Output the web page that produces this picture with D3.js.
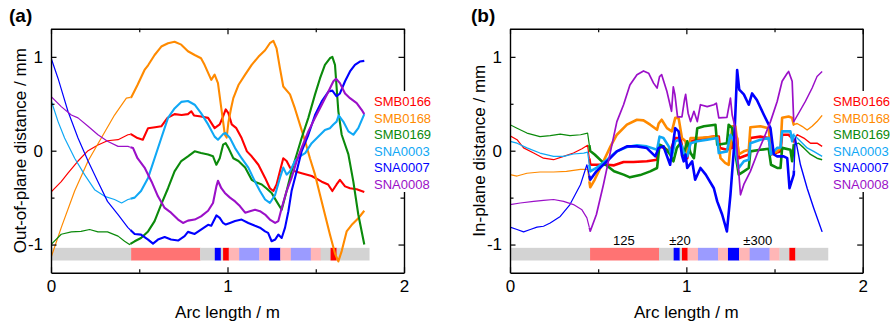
<!DOCTYPE html>
<html><head><meta charset="utf-8">
<script src="https://cdn.jsdelivr.net/npm/d3@7"></script>
<style>body{margin:0;background:#fff} text{font-family:"Liberation Sans",Arial,sans-serif}</style>
</head><body><svg id="c" width="891" height="329"></svg>
<script>
// ---------------- DATA ----------------
const seriesNames = ["SMB0166","SMB0168","SMB0169","SNA0003","SNA0007","SNA0008"];
const seriesColors = ["#ff0000","#ff8a00","#0b8a0b","#10a8f5","#0000ff","#9b10c8"];
const xTickValues = [0,0.5,1,1.5,2];
const yTickValues = [-1,-0.5,0,0.5,1];
const xDomain = [0,2];
const yDomain = [-1.3,1.3];

// Bar of segment types along the arc
const barStart = [0,0.454,0.845,0.928,0.962,0.975,1.007,1.066,1.18,1.236,1.299,1.359,1.472,1.528,1.584,1.618];
const barEnd   = [0.454,0.845,0.928,0.962,0.975,1.007,1.066,1.18,1.236,1.299,1.359,1.472,1.528,1.584,1.618,1.803];
const barColor = ["#d3d3d3","#ff7373","#d3d3d3","#0000ff","#d3d3d3","#ff0000","#ffb6b6","#9b9bff","#ffb6b6","#0000ff","#ffb6b6","#9b9bff","#ffb6b6","#d3d3d3","#ff0000","#d3d3d3"];
const barLabels = ["125","\u00b120","\u00b1300"];
const barLabelX = [0.646,0.964,1.405];

// Panel (a): out-of-plane distance [arc length m, mm]
const aSMB0166 = [[0,-0.44],[0.058,-0.33],[0.096,-0.24],[0.153,-0.11],[0.21,0],[0.266,0.06],[0.32,0.106],[0.38,0.117],[0.436,0.17],[0.455,0.175],[0.49,0.135],[0.52,0.117],[0.55,0.24],[0.59,0.25],[0.625,0.26],[0.66,0.35],[0.70,0.39],[0.74,0.38],[0.776,0.39],[0.795,0.42],[0.81,0.376],[0.85,0.365],[0.89,0.35],[0.927,0.24],[0.956,0.28],[0.975,0.365],[0.99,0.44],[1.005,0.40],[1.024,0.28],[1.05,0.24],[1.08,0.135],[1.11,-0.007],[1.137,-0.06],[1.175,-0.15],[1.213,-0.29],[1.24,-0.40],[1.26,-0.43],[1.278,-0.36],[1.297,-0.22],[1.316,-0.08],[1.335,-0.11],[1.354,-0.18],[1.382,-0.22],[1.42,-0.24],[1.477,-0.27],[1.534,-0.33],[1.57,-0.36],[1.594,-0.43],[1.618,-0.36],[1.637,-0.31],[1.666,-0.38],[1.694,-0.40],[1.732,-0.41],[1.775,-0.44]];
const aSMB0168 = [[0,-1.14],[0.058,-0.82],[0.134,-0.43],[0.21,-0.11],[0.285,0.135],[0.36,0.38],[0.427,0.56],[0.455,0.57],[0.49,0.70],[0.53,0.86],[0.55,0.91],[0.587,1.02],[0.625,1.11],[0.663,1.145],[0.70,1.16],[0.738,1.13],[0.776,1.06],[0.814,1.02],[0.85,0.985],[0.87,0.915],[0.908,0.755],[0.927,0.81],[0.946,0.72],[0.965,0.45],[0.985,0.17],[0.995,0.14],[1.005,0.3],[1.02,0.45],[1.033,0.56],[1.062,0.70],[1.1,0.81],[1.137,0.915],[1.175,1.0],[1.213,1.07],[1.24,1.145],[1.26,1.17],[1.278,1.09],[1.297,0.88],[1.316,0.684],[1.354,0.6],[1.382,0.45],[1.41,0.28],[1.44,0.10],[1.467,-0.08],[1.496,-0.255],[1.524,-0.47],[1.552,-0.68],[1.58,-0.89],[1.61,-1.1],[1.628,-1.18],[1.647,-1.07],[1.675,-0.86],[1.704,-0.79],[1.741,-0.72],[1.775,-0.64]];
const aSMB0169 = [[0,-1.0],[0.058,-0.89],[0.115,-0.865],[0.17,-0.86],[0.219,-0.84],[0.266,-0.865],[0.32,-0.865],[0.38,-0.91],[0.417,-0.965],[0.445,-1.0],[0.474,-0.965],[0.51,-0.93],[0.55,-0.86],[0.587,-0.75],[0.625,-0.57],[0.663,-0.40],[0.70,-0.22],[0.738,-0.11],[0.776,-0.06],[0.814,-0.007],[0.85,-0.025],[0.89,-0.04],[0.918,-0.06],[0.937,-0.15],[0.956,-0.08],[0.975,0.064],[0.99,0.08],[1.005,0.03],[1.033,-0.08],[1.062,-0.11],[1.1,-0.18],[1.137,-0.31],[1.165,-0.34],[1.194,-0.36],[1.22,-0.40],[1.25,-0.45],[1.278,-0.54],[1.307,-0.63],[1.335,-0.43],[1.363,-0.22],[1.392,-0.04],[1.42,0.135],[1.458,0.35],[1.496,0.6],[1.524,0.77],[1.552,0.915],[1.58,0.985],[1.594,1.0],[1.609,0.915],[1.628,0.42],[1.647,0.17],[1.685,-0.04],[1.713,-0.33],[1.741,-0.68],[1.775,-1.0]];
const aSNA0003 = [[0,0.54],[0.04,0.31],[0.077,0.135],[0.134,-0.08],[0.19,-0.255],[0.247,-0.415],[0.304,-0.486],[0.36,-0.52],[0.4,-0.557],[0.436,-0.52],[0.474,-0.50],[0.51,-0.43],[0.55,-0.29],[0.587,-0.08],[0.625,0.135],[0.663,0.35],[0.70,0.45],[0.738,0.52],[0.776,0.53],[0.814,0.49],[0.85,0.40],[0.89,0.28],[0.927,0.15],[0.946,0.117],[0.975,0.177],[0.99,0.188],[1.014,0.135],[1.043,0.028],[1.08,-0.08],[1.118,-0.18],[1.156,-0.33],[1.184,-0.43],[1.213,-0.52],[1.24,-0.557],[1.27,-0.47],[1.297,-0.29],[1.316,-0.18],[1.335,-0.255],[1.354,-0.22],[1.382,-0.11],[1.41,-0.06],[1.44,-0.025],[1.477,0.08],[1.515,0.15],[1.552,0.22],[1.58,0.24],[1.6,0.28],[1.618,0.31],[1.63,0.376],[1.656,0.31],[1.685,0.206],[1.713,0.17],[1.741,0.24],[1.775,0.39]];
const aSNA0007 = [[0,0.99],[0.04,0.77],[0.096,0.42],[0.153,0.135],[0.21,-0.11],[0.266,-0.33],[0.32,-0.54],[0.38,-0.68],[0.436,-0.82],[0.474,-0.887],[0.51,-0.894],[0.55,-0.947],[0.578,-0.99],[0.606,-0.947],[0.644,-0.92],[0.68,-0.947],[0.72,-0.957],[0.757,-0.91],[0.776,-0.865],[0.814,-0.887],[0.85,-0.84],[0.89,-0.79],[0.908,-0.8],[0.937,-0.69],[0.956,-0.716],[0.975,-0.77],[0.99,-0.787],[1.014,-0.77],[1.043,-0.75],[1.08,-0.734],[1.118,-0.77],[1.156,-0.80],[1.184,-0.82],[1.213,-0.86],[1.23,-0.876],[1.25,-0.965],[1.27,-0.947],[1.288,-0.894],[1.307,-0.93],[1.326,-0.82],[1.345,-0.645],[1.363,-0.43],[1.392,-0.22],[1.42,-0.007],[1.458,0.17],[1.496,0.38],[1.534,0.525],[1.572,0.63],[1.594,0.64],[1.618,0.58],[1.637,0.61],[1.666,0.74],[1.694,0.844],[1.722,0.915],[1.75,0.95],[1.775,0.957]];
const aSNA0008 = [[0,0.578],[0.058,0.47],[0.115,0.38],[0.153,0.35],[0.21,0.26],[0.266,0.17],[0.32,0.1],[0.38,0.046],[0.436,0.046],[0.465,0.028],[0.49,-0.08],[0.53,-0.18],[0.57,-0.33],[0.606,-0.486],[0.644,-0.61],[0.68,-0.66],[0.72,-0.734],[0.748,-0.77],[0.776,-0.745],[0.814,-0.734],[0.85,-0.70],[0.89,-0.64],[0.918,-0.557],[0.937,-0.38],[0.946,-0.32],[0.965,-0.40],[0.985,-0.45],[1.014,-0.50],[1.043,-0.54],[1.07,-0.59],[1.1,-0.66],[1.127,-0.645],[1.156,-0.63],[1.184,-0.645],[1.213,-0.68],[1.24,-0.734],[1.27,-0.77],[1.288,-0.75],[1.307,-0.61],[1.335,-0.43],[1.363,-0.29],[1.392,-0.11],[1.42,0.03],[1.458,0.206],[1.496,0.35],[1.534,0.49],[1.572,0.63],[1.6,0.74],[1.615,0.766],[1.637,0.72],[1.666,0.61],[1.694,0.56],[1.732,0.507],[1.76,0.436],[1.775,0.39]];

// Panel (b): in-plane distance
const bSMB0166 = [[0,0.16],[0.04,0.117],[0.077,0.03],[0.134,-0.025],[0.19,-0.08],[0.247,-0.096],[0.304,-0.06],[0.36,-0.025],[0.408,0.02],[0.44,0.057],[0.455,-0.15],[0.49,-0.15],[0.55,-0.15],[0.59,-0.156],[0.644,-0.12],[0.70,-0.12],[0.776,-0.113],[0.834,-0.096],[0.843,0.064],[0.87,0.03],[0.908,-0.007],[0.937,0.135],[0.966,0.135],[0.985,-0.04],[1.005,-0.08],[1.024,0.1],[1.062,0.117],[1.1,0.135],[1.156,0.15],[1.184,0.15],[1.19,0.03],[1.23,0.01],[1.26,0.03],[1.27,0.17],[1.288,0.135],[1.297,-0.08],[1.326,-0.06],[1.354,-0.04],[1.363,0.135],[1.42,0.15],[1.467,0.135],[1.48,-0.04],[1.505,-0.025],[1.534,-0.007],[1.543,0.17],[1.58,0.17],[1.6,0.135],[1.609,0.1],[1.628,0.17],[1.666,0.135],[1.704,0.08],[1.741,0.08],[1.77,0.046]];
const bSMB0168 = [[0,-0.255],[0.04,-0.27],[0.096,-0.24],[0.17,-0.227],[0.247,-0.227],[0.32,-0.22],[0.4,-0.2],[0.44,-0.2],[0.455,-0.39],[0.48,-0.31],[0.53,-0.113],[0.57,0.046],[0.606,0.17],[0.663,0.277],[0.72,0.33],[0.757,0.323],[0.795,0.277],[0.834,0.223],[0.843,0.29],[0.86,0.33],[0.89,0.24],[0.918,0.206],[0.937,0.35],[0.956,0.35],[0.975,0.135],[0.995,0.1],[1.005,-0.04],[1.024,0.135],[1.062,0.135],[1.1,0.14],[1.175,0.15],[1.194,-0.08],[1.22,-0.13],[1.24,-0.15],[1.26,0.26],[1.278,0.26],[1.297,-0.04],[1.326,-0.007],[1.354,0.01],[1.363,0.25],[1.42,0.26],[1.467,0.24],[1.48,-0.04],[1.515,-0.007],[1.534,0.03],[1.543,0.35],[1.58,0.365],[1.6,0.35],[1.609,0.277],[1.628,0.29],[1.656,0.26],[1.685,0.22],[1.713,0.26],[1.741,0.31],[1.77,0.376]];
const bSMB0169 = [[0,0.277],[0.04,0.24],[0.096,0.188],[0.17,0.15],[0.228,0.16],[0.285,0.177],[0.34,0.16],[0.4,0.17],[0.44,0.188],[0.455,-0.004],[0.48,-0.04],[0.53,-0.13],[0.59,-0.22],[0.644,-0.255],[0.68,-0.284],[0.738,-0.26],[0.795,-0.22],[0.834,-0.184],[0.848,0.064],[0.87,0.046],[0.908,-0.04],[0.927,-0.113],[0.946,0.03],[0.966,0.08],[0.985,-0.04],[1.005,0.1],[1.024,-0.025],[1.043,-0.08],[1.062,0.24],[1.1,0.26],[1.165,0.277],[1.175,0.064],[1.23,0.08],[1.24,0.277],[1.26,0.24],[1.27,0.064],[1.297,-0.255],[1.326,-0.22],[1.354,-0.184],[1.363,-0.007],[1.42,0.01],[1.467,0.02],[1.48,-0.15],[1.515,-0.184],[1.534,-0.184],[1.543,0.03],[1.59,0.01],[1.6,-0.113],[1.609,0.064],[1.637,0.08],[1.666,0.03],[1.704,-0.04],[1.741,-0.08],[1.77,-0.096]];
const bSNA0003 = [[0,0.1],[0.04,0.08],[0.096,0.03],[0.17,-0.025],[0.247,-0.06],[0.304,-0.06],[0.36,-0.035],[0.418,-0.025],[0.44,-0.015],[0.455,-0.22],[0.49,-0.184],[0.55,-0.096],[0.606,-0.007],[0.663,0.04],[0.72,0.057],[0.776,0.046],[0.834,0.01],[0.848,0.15],[0.87,0.135],[0.9,0.046],[0.918,-0.06],[0.937,0.1],[0.956,0.117],[0.975,0.046],[0.986,-0.025],[1.005,-0.06],[1.024,0.08],[1.062,0.1],[1.118,0.117],[1.175,0.135],[1.184,-0.025],[1.23,-0.007],[1.25,0.17],[1.27,0.1],[1.297,-0.184],[1.326,-0.113],[1.354,-0.096],[1.363,0.08],[1.42,0.117],[1.467,0.135],[1.48,-0.04],[1.515,0.03],[1.534,0.035],[1.543,0.206],[1.59,0.206],[1.6,0.1],[1.609,0.17],[1.647,0.1],[1.685,0.03],[1.722,-0.007],[1.77,-0.06]];
const bSNA0007 = [[0,-0.815],[0.04,-0.84],[0.077,-0.865],[0.115,-0.84],[0.153,-0.815],[0.19,-0.805],[0.228,-0.77],[0.285,-0.7],[0.34,-0.574],[0.4,-0.36],[0.436,-0.15],[0.455,-0.31],[0.49,-0.22],[0.55,-0.113],[0.606,-0.007],[0.663,0.046],[0.72,0.046],[0.776,0.028],[0.824,-0.06],[0.843,0.028],[0.87,0.046],[0.908,-0.15],[0.937,0.24],[0.956,0.206],[0.975,-0.05],[0.985,-0.113],[0.995,-0.04],[1.005,-0.184],[1.033,-0.113],[1.05,-0.31],[1.08,-0.184],[1.11,-0.255],[1.156,-0.40],[1.175,-0.54],[1.203,-0.68],[1.23,-0.86],[1.25,-0.47],[1.27,0.028],[1.288,0.86],[1.3,0.65],[1.326,0.6],[1.354,0.49],[1.373,0.61],[1.4,0.54],[1.44,0.38],[1.477,0.24],[1.496,-0.04],[1.515,-0.06],[1.552,-0.06],[1.572,-0.08],[1.585,-0.40],[1.609,-0.255],[1.618,0.135],[1.647,-0.15],[1.685,-0.40],[1.722,-0.61],[1.77,-0.865]];
const bSNA0008 = [[0,-0.574],[0.058,-0.557],[0.134,-0.54],[0.19,-0.53],[0.247,-0.52],[0.304,-0.54],[0.36,-0.574],[0.408,-0.63],[0.436,-0.716],[0.455,-0.858],[0.49,-0.68],[0.53,-0.36],[0.57,-0.007],[0.606,0.31],[0.644,0.49],[0.68,0.70],[0.72,0.81],[0.757,0.85],[0.786,0.826],[0.814,0.72],[0.834,0.667],[0.848,0.79],[0.86,0.81],[0.89,0.63],[0.916,0.42],[0.926,0.68],[0.935,0.6],[0.95,0.36],[0.975,0.36],[0.99,0.55],[0.996,0.6],[1.01,0.4],[1.024,0.31],[1.043,0.42],[1.062,0.31],[1.08,0.49],[1.118,0.47],[1.156,0.49],[1.17,0.507],[1.184,0.35],[1.23,0.355],[1.25,0.56],[1.26,0.38],[1.278,0.24],[1.307,-0.47],[1.326,-0.36],[1.363,-0.22],[1.4,-0.04],[1.44,0.135],[1.477,0.31],[1.515,0.525],[1.543,0.74],[1.572,0.826],[1.58,0.844],[1.6,0.74],[1.609,0.31],[1.637,0.40],[1.675,0.525],[1.713,0.667],[1.741,0.79],[1.77,0.844]];

const aSeries = [aSMB0166,aSMB0168,aSMB0169,aSNA0003,aSNA0007,aSNA0008];
const bSeries = [bSMB0166,bSMB0168,bSMB0169,bSNA0003,bSNA0007,bSNA0008];

// ---------------- DRAW ----------------
const svg = d3.select("#c");
const plotTop = 28.7, plotBottom = 272.7;

const panels = [
  {x0:51, x1:404, data:aSeries, tag:"(a)", tagX:9, ytitle:"Out-of-plane distance / mm", ytitleX:25.5, legX:374,
   widths:[[0,0.45,1.2],[0.45,2,2.1]], purpleMid:2.1, barText:false},
  {x0:510, x1:862.7, data:bSeries, tag:"(b)", tagX:471, ytitle:"In-plane distance / mm", ytitleX:485, legX:833,
   widths:[[0,0.45,1.2],[0.45,1.61,2.6],[1.61,2,1.4]], purpleMid:1.7, barText:true}
];

function clipSeg(pts, a, b){
  const out=[];
  for(let i=0;i<pts.length;i++){
    const [px0,py0]=pts[i];
    if(i>0){
      const [qx,qy]=pts[i-1];
      for(const c of [a,b]){
        if(qx<c && px0>c) out.push([c, qy+(py0-qy)*(c-qx)/(px0-qx)]);
      }
    }
    if(px0>=a && px0<=b) out.push([px0,py0]);
  }
  return out;
}

panels.forEach((p,pi)=>{
  const x = d3.scaleLinear().domain(xDomain).range([p.x0,p.x1]);
  const y = d3.scaleLinear().domain(yDomain).range([plotBottom,plotTop]);
  const g = svg.append("g");
  const clipId = "clip"+pi;
  svg.append("clipPath").attr("id",clipId).append("rect")
    .attr("x",p.x0).attr("y",plotTop).attr("width",p.x1-p.x0).attr("height",plotBottom-plotTop);

  // bar
  const yb0 = y(-1.035), yb1 = y(-1.17);
  g.append("g").selectAll("rect").data(barStart).join("rect")
    .attr("x",(d)=>x(d)).attr("width",(d,i)=>x(barEnd[i])-x(d)+0.3)
    .attr("y",yb0).attr("height",yb1-yb0)
    .attr("fill",(d,i)=>barColor[i]);
  if(p.barText){
    g.append("g").selectAll("text").data(barLabels).join("text")
      .attr("x",(d,i)=>x(barLabelX[i])).attr("y",y(-1.035)-3)
      .attr("text-anchor","middle").attr("font-size",13).attr("fill","#000").text(d=>d);
  }

  // lines
  const line = d3.line().x(d=>x(d[0])).y(d=>y(d[1]));
  const lg = g.append("g").attr("clip-path",`url(#${clipId})`);
  p.data.forEach((pts,si)=>{
    p.widths.forEach(([a,b,w],wi)=>{
      const seg = clipSeg(pts,a,b);
      if(seg.length<2) return;
      let sw = w;
      if(si===5 && wi===1) sw = p.purpleMid;
      lg.append("path").attr("d",line(seg)).attr("fill","none")
        .attr("stroke",seriesColors[si]).attr("stroke-width",sw)
        .attr("stroke-linejoin","round").attr("stroke-linecap","butt");
    });
  });

  // axes
  const fmt = d => Number.isInteger(d) ? String(d) : "";
  const setMinor = (ax, attr, val) => ax.selectAll(".tick").filter(d=>!Number.isInteger(d)).select("line").attr(attr,val);
  const axL = g.append("g").attr("transform",`translate(${p.x0},0)`)
    .call(d3.axisLeft(y).tickValues(yTickValues).tickFormat(fmt).tickSizeInner(-5.5).tickSizeOuter(0).tickPadding(8));
  setMinor(axL,"x2",3.5);
  const axR = g.append("g").attr("transform",`translate(${p.x1},0)`)
    .call(d3.axisRight(y).tickValues(yTickValues).tickFormat("").tickSizeInner(-5.5).tickSizeOuter(0));
  setMinor(axR,"x2",-3.5);
  const axB = g.append("g").attr("transform",`translate(0,${plotBottom})`)
    .call(d3.axisBottom(x).tickValues(xTickValues).tickFormat(fmt).tickSizeInner(-5.5).tickSizeOuter(0).tickPadding(7));
  setMinor(axB,"y2",-3.5);
  const axT = g.append("g").attr("transform",`translate(0,${plotTop})`)
    .call(d3.axisTop(x).tickValues(xTickValues).tickFormat("").tickSizeInner(-5.5).tickSizeOuter(0));
  setMinor(axT,"y2",3.5);
  [axL,axR,axB,axT].forEach(ax=>{
    ax.selectAll("path.domain").attr("stroke","#000").attr("stroke-width",1.4);
    ax.selectAll(".tick line").attr("stroke","#000").attr("stroke-width",1.2);
    ax.selectAll(".tick text").attr("font-size",17).attr("fill","#000")
      .attr("font-family",'"Liberation Sans", Arial, sans-serif');
  });

  // titles
  g.append("text").attr("x",(p.x0+p.x1)/2).attr("y",318).attr("text-anchor","middle")
    .attr("font-size",17).text("Arc length / m");
  g.append("text").attr("transform",`translate(${p.ytitleX},${y(0)}) rotate(-90)`)
    .attr("text-anchor","middle").attr("font-size",17).text(p.ytitle);
  g.append("text").attr("x",p.tagX).attr("y",22).attr("font-size",19).attr("font-weight","bold").text(p.tag);

  // legend (white box covering the spine)
  const leg = g.append("g");
  leg.append("rect").attr("x",p.legX-2).attr("y",91).attr("width",62).attr("height",101).attr("fill","#fff");
  leg.selectAll("text").data(seriesNames).join("text")
    .attr("x",p.legX).attr("y",(d,i)=>106+i*16.5)
    .attr("font-size",13).attr("fill",(d,i)=>seriesColors[i]).text(d=>d);
});
</script>
</body></html>
